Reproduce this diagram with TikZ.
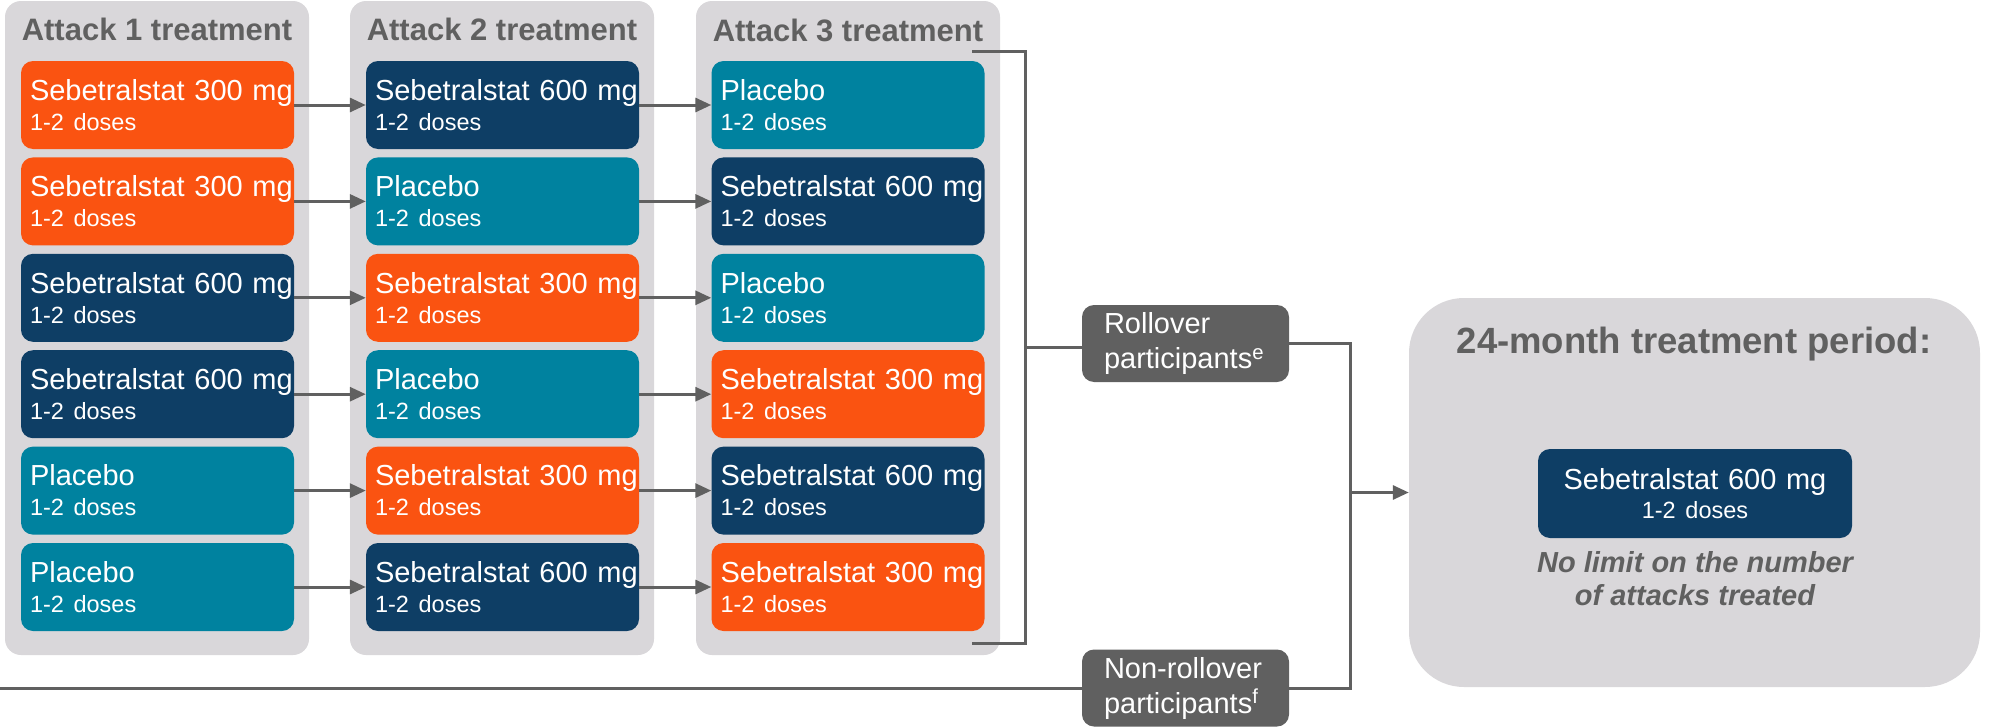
\documentclass[tikz,border=0pt]{standalone}
\usepackage{fontspec}
\setmainfont{Liberation Sans}
\usetikzlibrary{arrows.meta}

\definecolor{armlo}{RGB}{250,83,17}
\definecolor{armhi}{RGB}{14,62,101}
\definecolor{armpb}{RGB}{0,130,159}
\definecolor{panelgrey}{RGB}{217,215,218}
\definecolor{linegrey}{RGB}{96,96,96}

\newcommand{\armtxtlo}{Sebetralstat 300 mg}
\newcommand{\armtxthi}{Sebetralstat 600 mg}
\newcommand{\armtxtpb}{Placebo}
\newcommand{\armbox}[1]{\mbox{\csname armtxt#1\endcsname}\\{\fontsize{23.5}{30}\selectfont 1-2 doses}}

\tikzset{
  panel/.style={fill=panelgrey, rounded corners=16pt, inner sep=0pt},
  arm/.style={rounded corners=12pt, text=white, align=left, text width=255pt, inner xsep=9pt, inner ysep=0pt, minimum height=88pt, font=\fontsize{29}{30}\selectfont},
  title/.style={anchor=base, text=linegrey, font=\fontsize{31}{31}\selectfont\bfseries},
  group/.style={fill=linegrey, rounded corners=12pt, text=white, align=left, text width=163pt, inner xsep=22pt, inner ysep=0pt, minimum height=77pt, font=\fontsize{29}{35}\selectfont},
  link/.style={draw=linegrey, line width=3pt},
  tip/.style={-{Triangle[length=16pt,width=14pt]}},
}

\begin{document}
\begin{tikzpicture}[x=1pt, y=-1pt]
    \useasboundingbox (0,0) rectangle (1990,728);

    % Attack panels
    \node[panel, minimum width=304pt, minimum height=654pt] (p1) at (157,328) {};
    \node[panel, minimum width=304pt, minimum height=654pt] (p2) at (502,328) {};
    \node[panel, minimum width=304pt, minimum height=654pt] (p3) at (848,328) {};
    \node[title] (t1) at (157,40) {Attack 1 treatment};
    \node[title] (t2) at (502,40) {Attack 2 treatment};
    \node[title] (t3) at (848,41) {Attack 3 treatment};

    % Treatment sequences
    \foreach \r/\a/\b/\c in {1/lo/hi/pb, 2/lo/pb/hi, 3/hi/lo/pb, 4/hi/pb/lo, 5/pb/lo/hi, 6/pb/hi/lo}{
        \pgfmathsetmacro{\y}{105+96.4*(\r-1)}
        \node[arm, fill=arm\a] (a1r\r) at (157.5,\y) {\armbox{\a}};
        \node[arm, fill=arm\b] (a2r\r) at (502.5,\y) {\armbox{\b}};
        \node[arm, fill=arm\c] (a3r\r) at (848,\y) {\armbox{\c}};
        \draw[link, tip] (a1r\r) -- (a2r\r);
        \draw[link, tip] (a2r\r) -- (a3r\r);
    }

    % Participant groups
    \node[group] (roll) at (1185.5,343.5) {Rollover\\participants\textsuperscript{e}};
    \node[group] (nonroll) at (1185.5,688) {Non-rollover\\participants\textsuperscript{f}};

    % Bracket round attack 3
    \coordinate (brtop) at (972,51);
    \coordinate (brbot) at (972,643);
    \coordinate (brside) at (1025,347);
    \draw[link] (brtop) -| (brside) |- (brbot);
    \draw[link] (brside) -- (brside -| roll.west);

    % Open-label period
    \node[panel, rounded corners=55pt, minimum width=571pt, minimum height=389pt] (period) at (1694.5,492.5) {};
    \node[title, font=\fontsize{36.5}{36.5}\selectfont\bfseries] (ptitle) at (1694,353) {24-month treatment period:};
    \node[arm, fill=armhi, align=center, text width=296pt, minimum height=89pt, font=\fontsize{29}{29}\selectfont] (final) at (1695,493.5) {Sebetralstat 600 mg\\{\fontsize{23.5}{29}\selectfont 1-2 doses}};
    \node[anchor=base, text=linegrey, font=\fontsize{29}{29}\selectfont\bfseries\itshape] (note1) at (1695,572) {No limit on the number};
    \node[anchor=base, text=linegrey, font=\fontsize{29}{29}\selectfont\bfseries\itshape] (note2) at (1695,605) {of attacks treated};

    % Connectors to the period
    \coordinate (lft) at (0,688);
    \coordinate (join) at (1350,492.5);
    \draw[link] (lft) -- (nonroll.west);
    \draw[link] (roll.east) -| (join);
    \draw[link] (nonroll.east) -| (join);
    \draw[link, tip] (join) -- (period);
\end{tikzpicture}
\end{document}
